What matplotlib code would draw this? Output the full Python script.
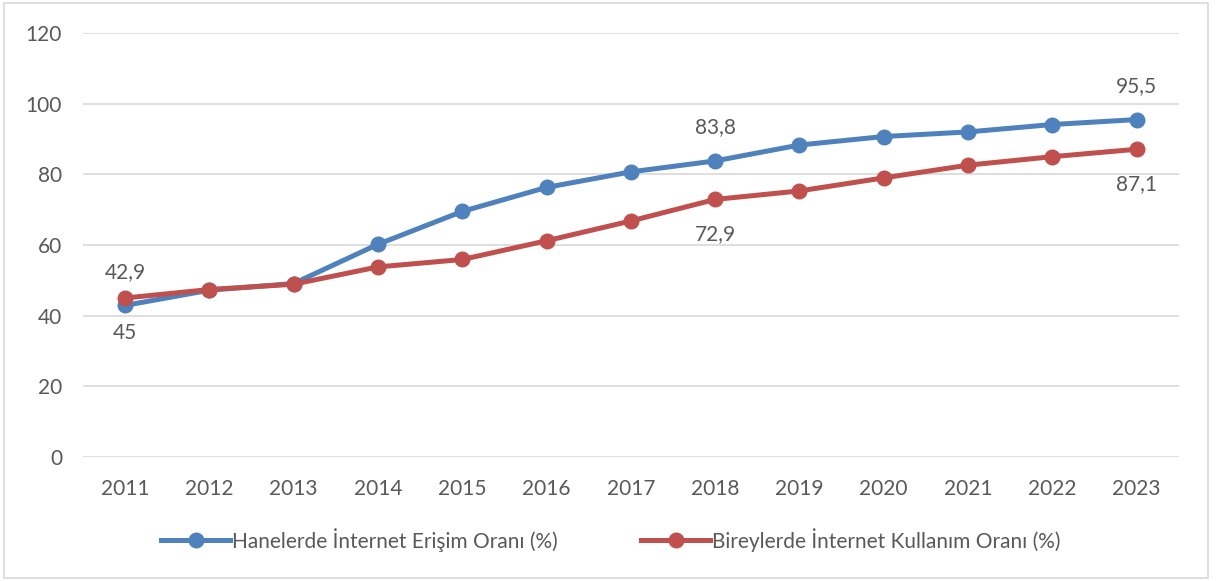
import matplotlib
matplotlib.use("Agg")
import matplotlib.pyplot as plt
from matplotlib.patches import Rectangle

years = ["2011", "2012", "2013", "2014", "2015", "2016", "2017",
         "2018", "2019", "2020", "2021", "2022", "2023"]
hane = [42.9, 47.2, 49.1, 60.2, 69.5, 76.3, 80.7, 83.8, 88.3, 90.7, 92.0, 94.1, 95.5]
birey = [45.0, 47.4, 48.9, 53.8, 55.9, 61.2, 66.8, 72.9, 75.3, 79.0, 82.6, 85.0, 87.1]
hane_label = "Hanelerde İnternet Erişim Oranı (%)"
birey_label = "Bireylerde İnternet Kullanım Oranı (%)"
# which points carry a data label
labelled = [0, 7, 12]

blue = "#4F81BD"
red = "#C0504D"
txt = "#595959"
fs = 15

plt.rcParams['font.family'] = ['Lato', 'DejaVu Sans']

fig = plt.figure(figsize=(12.19, 5.81), dpi=100)
ax = fig.add_axes([0.068, 0.2134, 0.899, 0.7298])

x = list(range(len(years)))
ax.plot(x, hane, color=blue, lw=3.6, marker='o', ms=10.5, label=hane_label, zorder=3)
ax.plot(x, birey, color=red, lw=3.6, marker='o', ms=10.5, label=birey_label, zorder=4)

for i in labelled:
    ax.annotate(f"{hane[i]:g}".replace('.', ','), (x[i], hane[i]), xytext=(0, 24),
                textcoords='offset points', ha='center', va='center',
                fontsize=fs, color=txt)
    ax.annotate(f"{birey[i]:g}".replace('.', ','), (x[i], birey[i]), xytext=(0, -25),
                textcoords='offset points', ha='center', va='center',
                fontsize=fs, color=txt)

ax.set_xlim(-0.5, len(years) - 0.5)
ax.set_ylim(0, 120)
ax.set_yticks(range(0, 121, 20))
ax.set_xticks(x)
ax.set_xticklabels(years)
ax.grid(axis='y', color='#d9d9d9', lw=1.2)
ax.set_axisbelow(True)
for s in ax.spines.values():
    s.set_visible(False)
ax.tick_params(length=0, labelsize=fs, colors=txt)
ax.tick_params(axis='x', pad=16)
ax.tick_params(axis='y', pad=15)

ax.legend(loc='center', bbox_to_anchor=(0.482, -0.195), ncol=2, frameon=False,
          fontsize=fs, labelcolor=txt, handlelength=3.3, handletextpad=0.1,
          columnspacing=4.0)

fig.patches.append(Rectangle((0.003, 0.006), 0.988, 0.988, transform=fig.transFigure,
                             fill=False, edgecolor='#d9d9d9', lw=1.2))

fig.savefig("out.png")
